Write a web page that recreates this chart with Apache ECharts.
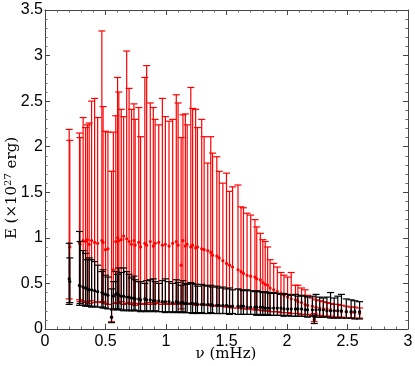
<!DOCTYPE html>
<html lang="en">
<head>
    <meta charset="UTF-8">
    <title>E vs nu</title>
    <script type="text/javascript" src="https://cdn.jsdelivr.net/npm/echarts@6/dist/echarts.min.js"></script>
    <style>
        html, body { margin: 0; padding: 0; background: #fff; }
        #main { width: 415px; height: 366px; }
    </style>
</head>
<body>
<div id="main"></div>
<script type="text/javascript">
    // frequency (mHz)
    var freq = [0.200,0.205,0.285,0.290,0.315,0.335,0.350,0.365,0.385,0.410,0.435,0.470,0.480,0.500,0.520,0.550,0.565,0.585,0.600,0.610,
        0.630,0.650,0.675,0.695,0.715,0.735,0.745,0.775,0.790,0.825,0.840,0.870,0.895,0.910,0.940,0.970,0.995,1.025,1.055,1.085,
        1.100,1.125,1.140,1.160,1.175,1.205,1.220,1.245,1.260,1.295,1.315,1.345,1.370,1.385,1.420,1.440,1.470,1.500,1.525,1.550,
        1.595,1.620,1.640,1.670,1.700,1.735,1.750,1.780,1.800,1.820,1.840,1.860,1.890,1.920,1.950,1.975,2.005,2.035,2.070,2.090,
        2.120,2.150,2.170,2.210,2.225,2.240,2.270,2.300,2.330,2.360,2.390,2.420,2.450,2.490,2.530,2.560,2.600];

    // red series: value, lower, upper
    var redE = [0.94,0.90,0.95,0.93,0.97,0.96,0.98,0.93,0.97,0.95,0.94,0.97,0.95,0.87,0.88,0.13,0.65,0.96,1.00,0.97,
        0.98,1.02,0.99,0.96,0.93,0.97,0.92,0.95,0.90,0.94,0.92,0.96,0.91,0.94,0.95,0.92,0.93,0.91,0.94,0.96,
        0.92,0.70,0.97,0.91,0.93,0.90,0.92,0.89,0.90,0.88,0.87,0.86,0.84,0.81,0.80,0.78,0.75,0.72,0.70,0.68,
        0.65,0.63,0.61,0.59,0.58,0.57,0.55,0.54,0.51,0.49,0.48,0.45,0.43,0.41,0.39,0.37,0.35,0.33,0.32,0.30,
        0.29,0.27,0.26,0.25,0.12,0.24,0.23,0.22,0.22,0.21,0.20,0.20,0.19,0.19,0.18,0.18,0.17];
    var redLo = [0.33,0.29,0.32,0.30,0.31,0.29,0.30,0.28,0.31,0.29,0.30,0.29,0.30,0.28,0.27,0.08,0.22,0.28,0.29,0.28,
        0.30,0.27,0.28,0.29,0.27,0.28,0.26,0.28,0.27,0.28,0.27,0.29,0.27,0.28,0.29,0.27,0.28,0.27,0.28,0.27,
        0.28,0.22,0.27,0.28,0.27,0.27,0.28,0.26,0.27,0.27,0.26,0.26,0.26,0.25,0.26,0.25,0.25,0.24,0.24,0.23,
        0.23,0.23,0.22,0.22,0.22,0.21,0.21,0.21,0.20,0.20,0.20,0.19,0.19,0.19,0.18,0.18,0.18,0.17,0.17,0.17,
        0.16,0.16,0.16,0.15,0.08,0.15,0.15,0.14,0.14,0.14,0.13,0.13,0.13,0.12,0.12,0.12,0.12];
    var redHi = [2.19,2.07,2.15,2.10,2.32,2.21,2.24,2.26,2.50,2.53,2.32,3.27,2.44,2.17,2.16,1.73,2.16,2.34,2.76,2.60,
        2.41,2.33,3.05,2.64,2.41,2.47,2.30,2.43,2.11,2.76,2.89,2.48,2.43,2.30,2.24,2.53,2.33,2.28,2.30,2.57,
        2.48,2.10,2.35,2.36,2.24,2.65,2.42,2.41,2.21,2.30,2.11,1.82,2.11,1.93,1.89,1.73,1.60,1.71,1.51,1.56,
        1.58,1.34,1.33,1.27,1.25,1.20,1.12,1.05,0.98,0.96,0.90,0.76,0.72,0.68,0.62,0.59,0.57,0.62,0.48,0.48,
        0.45,0.43,0.37,0.34,0.17,0.32,0.31,0.30,0.29,0.28,0.27,0.27,0.26,0.25,0.24,0.24,0.23];

    // black series: value, lower, upper
    var blackE = [0.55,0.52,0.48,0.47,0.46,0.45,0.44,0.43,0.43,0.42,0.41,0.40,0.39,0.38,0.37,0.13,0.36,0.38,0.39,0.37,
        0.36,0.36,0.35,0.35,0.34,0.34,0.33,0.33,0.32,0.33,0.32,0.32,0.31,0.31,0.31,0.30,0.30,0.30,0.29,0.30,
        0.29,0.29,0.29,0.28,0.28,0.28,0.28,0.28,0.27,0.27,0.27,0.27,0.27,0.26,0.26,0.26,0.26,0.26,0.25,0.25,
        0.25,0.25,0.25,0.24,0.24,0.24,0.24,0.24,0.24,0.23,0.23,0.23,0.23,0.23,0.23,0.22,0.22,0.22,0.22,0.22,
        0.22,0.21,0.21,0.21,0.10,0.21,0.21,0.21,0.20,0.20,0.20,0.20,0.20,0.19,0.19,0.19,0.19];
    var blackLo = [0.27,0.29,0.26,0.28,0.26,0.25,0.26,0.25,0.24,0.25,0.24,0.24,0.23,0.23,0.22,0.07,0.21,0.22,0.21,0.22,
        0.21,0.20,0.21,0.20,0.20,0.21,0.20,0.20,0.19,0.20,0.19,0.20,0.19,0.20,0.19,0.19,0.18,0.19,0.18,0.19,
        0.18,0.18,0.19,0.18,0.18,0.18,0.17,0.18,0.17,0.18,0.17,0.17,0.18,0.17,0.17,0.17,0.17,0.17,0.16,0.17,
        0.16,0.16,0.16,0.16,0.16,0.16,0.15,0.16,0.15,0.15,0.16,0.15,0.15,0.15,0.15,0.14,0.15,0.14,0.14,0.14,
        0.14,0.14,0.13,0.14,0.06,0.13,0.13,0.13,0.13,0.12,0.12,0.12,0.12,0.12,0.12,0.11,0.11];
    var blackHi = [0.94,0.78,1.07,0.96,0.86,0.83,0.76,0.78,0.76,0.74,0.70,0.63,0.65,0.59,0.57,0.44,0.52,0.63,0.60,0.67,
        0.62,0.67,0.63,0.60,0.56,0.58,0.54,0.52,0.52,0.50,0.53,0.54,0.55,0.52,0.50,0.53,0.55,0.52,0.50,0.54,
        0.51,0.48,0.53,0.50,0.49,0.51,0.50,0.49,0.47,0.49,0.48,0.47,0.48,0.46,0.47,0.45,0.46,0.44,0.45,0.43,
        0.44,0.43,0.42,0.43,0.42,0.41,0.42,0.41,0.40,0.41,0.40,0.39,0.40,0.39,0.38,0.39,0.38,0.37,0.38,0.36,
        0.37,0.36,0.35,0.36,0.15,0.38,0.35,0.34,0.35,0.40,0.34,0.36,0.38,0.33,0.32,0.31,0.30];

    function rows(e, lo, hi) {
        return freq.map(function (f, i) { return [f, lo[i], hi[i], e[i]]; });
    }

    // error bar with caps and a dot at the value
    function errBar(color) {
        return function (params, api) {
            var x = api.value(0);
            var lo = api.coord([x, api.value(1)]);
            var hi = api.coord([x, api.value(2)]);
            var c = api.coord([x, api.value(3)]);
            var w = 3.5;
            var st = { stroke: color, lineWidth: 1.2 };
            return {
                type: 'group',
                children: [
                    { type: 'line', shape: { x1: lo[0], y1: lo[1], x2: hi[0], y2: hi[1] }, style: st },
                    { type: 'line', shape: { x1: hi[0] - w, y1: hi[1], x2: hi[0] + w, y2: hi[1] }, style: st },
                    { type: 'line', shape: { x1: lo[0] - w, y1: lo[1], x2: lo[0] + w, y2: lo[1] }, style: st },
                    { type: 'circle', shape: { cx: c[0], cy: c[1], r: 1.6 }, style: { fill: color } }
                ]
            };
        };
    }

    var frame = { show: true, onZero: false, lineStyle: { color: '#444', width: 1 } };
    var tick = { show: true, inside: true, length: 5, lineStyle: { color: '#444' } };
    var minor = { show: true, splitNumber: 5, length: 2.5, lineStyle: { color: '#666' } };
    var labelFont = { color: '#000', fontSize: 16, fontFamily: 'Liberation Sans' };
    var serif = 'DejaVu Serif';

    var option = {
        animation: false,
        grid: { left: 45, right: 7, top: 10, bottom: 37, containLabel: false, outerBoundsMode: 'none' },
        // axis titles
        graphic: [{
            type: 'text', x: 226, y: 354,
            style: { text: 'ν (mHz)', fill: '#000', font: '15px "' + serif + '"', align: 'center', verticalAlign: 'middle' }
        }, {
            type: 'text', x: 12, y: 188, rotation: Math.PI / 2,
            style: {
                text: '{a|E (×10}{s|27}{a| erg)}', align: 'center', verticalAlign: 'middle',
                rich: {
                    a: { fill: '#000', fontSize: 15, fontFamily: serif },
                    s: { fill: '#000', fontSize: 10, fontFamily: serif, verticalAlign: 'top', padding: [0, 0, 7, 0] }
                }
            }
        }],
        xAxis: [{
            type: 'value', min: 0, max: 3, interval: 0.5,
            axisLine: frame, axisTick: tick, minorTick: minor,
            axisLabel: Object.assign({ margin: 5 }, labelFont),
            splitLine: { show: false }
        }, {
            type: 'value', min: 0, max: 3, interval: 0.5, position: 'top',
            axisLine: frame, axisTick: tick, minorTick: minor,
            axisLabel: { show: false }, splitLine: { show: false }
        }],
        yAxis: [{
            type: 'value', min: 0, max: 3.5, interval: 0.5,
            axisLine: frame, axisTick: tick, minorTick: minor,
            axisLabel: Object.assign({ margin: 2 }, labelFont),
            splitLine: { show: false }
        }, {
            type: 'value', min: 0, max: 3.5, interval: 0.5, position: 'right',
            axisLine: frame, axisTick: tick, minorTick: minor,
            axisLabel: { show: false }, splitLine: { show: false }
        }],
        series: [{
            type: 'custom', name: 'red', renderItem: errBar('#ff0000'),
            encode: { x: 0, y: [1, 2] }, data: rows(redE, redLo, redHi), clip: true, z: 2
        }, {
            type: 'custom', name: 'black', renderItem: errBar('#000000'),
            encode: { x: 0, y: [1, 2] }, data: rows(blackE, blackLo, blackHi), clip: true, z: 3
        }]
    };

    var myChart = echarts.init(document.getElementById('main'));
    myChart.setOption(option);
</script>
</body>
</html>
